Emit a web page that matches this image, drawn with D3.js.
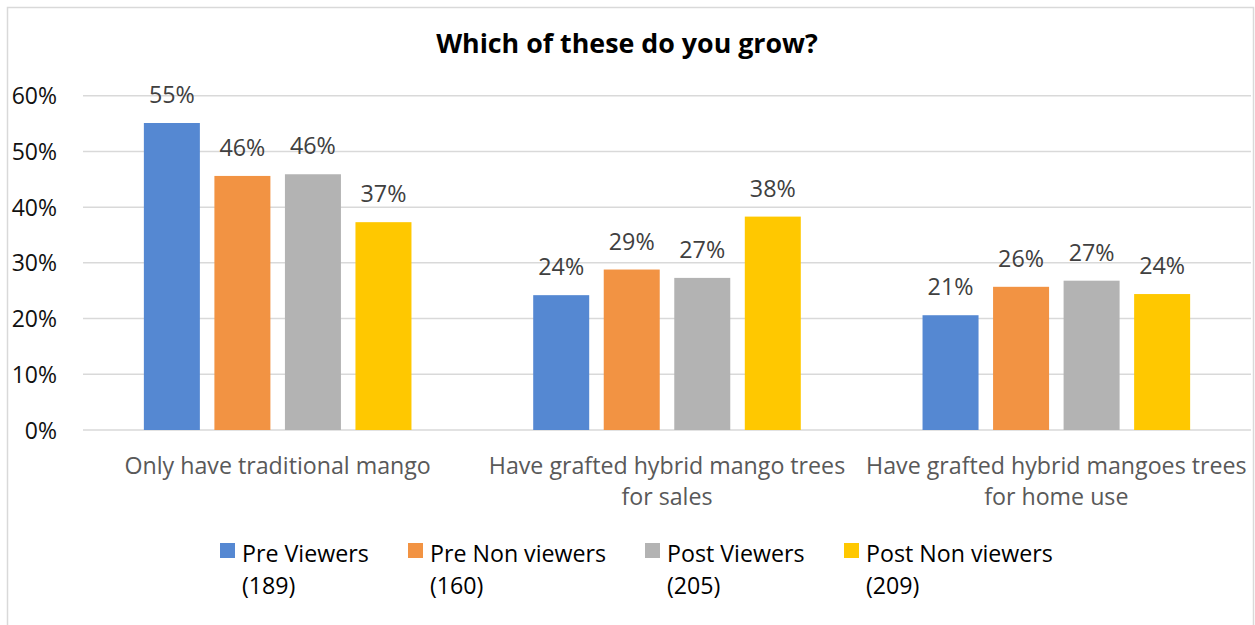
<!DOCTYPE html>
<html>
<head>
<meta charset="utf-8">
<script src="https://cdn.jsdelivr.net/npm/d3@7"></script>
<style>
  html, body { margin: 0; padding: 0; background: #fff; }
  svg { display: block; }
  text { font-family: "Open Sans", Lato, sans-serif; }
</style>
</head>
<body>
<svg id="chart" width="1255" height="625"></svg>
<script>
// ---- data ----
const categories = [
  ["Only have traditional mango"],
  ["Have grafted hybrid mango trees", "for sales"],
  ["Have grafted hybrid mangoes trees", "for home use"]
];
const seriesNames = ["Pre Viewers", "Pre Non viewers", "Post Viewers", "Post Non viewers"];
const seriesCounts = ["(189)", "(160)", "(205)", "(209)"];
const preViewers     = [0.551, 0.242, 0.206];
const preNonViewers  = [0.456, 0.288, 0.257];
const postViewers    = [0.459, 0.273, 0.268];
const postNonViewers = [0.373, 0.383, 0.244];
const yTicks = [0, 0.1, 0.2, 0.3, 0.4, 0.5, 0.6];
const colors = ["#5588d2", "#f29343", "#b3b3b3", "#ffc800"];
const title = "Which of these do you grow?";

const seriesValues = [preViewers, preNonViewers, postViewers, postNonViewers];

const svg = d3.select("#chart");

// frame
svg.append("rect").attr("x", 7.5).attr("y", 7.5).attr("width", 1246).attr("height", 640)
  .attr("fill", "#fff").attr("stroke", "#d9d9d9").attr("stroke-width", 1.5);

// title
svg.append("text").attr("x", 627).attr("y", 53).attr("text-anchor", "middle")
  .attr("font-size", 26.8).attr("font-weight", "bold").attr("fill", "#000").text(title);

const left = 83, right = 1251, y0 = 430, yTop = 95.7;
const catKeys = categories.map((c, i) => i);
const x0 = d3.scaleBand().domain(catKeys).range([left, right]).paddingInner(0).paddingOuter(0);
const x1 = d3.scaleBand().domain(d3.range(seriesNames.length)).range([0, x0.bandwidth()])
  .paddingInner(0.206).paddingOuter(0.863);
const y = d3.scaleLinear().domain([0, 0.6]).range([y0, yTop]);

// gridlines
svg.append("g").selectAll("line").data(yTicks).join("line")
  .attr("x1", left).attr("x2", right)
  .attr("y1", d => y(d)).attr("y2", d => y(d))
  .attr("stroke", "#d9d9d9").attr("stroke-width", 1.5);

// y axis labels
const yAxis = d3.axisLeft(y).tickValues(yTicks).tickFormat(d3.format(".0%")).tickSize(0).tickPadding(0);
const ya = svg.append("g").attr("transform", "translate(57,0)").call(yAxis);
ya.select(".domain").remove();
ya.selectAll("text").attr("font-size", 23).attr("fill", "#111").attr("font-family", "'Open Sans', sans-serif")
  .attr("dy", "0.35em");

// bars
const groups = svg.append("g").selectAll("g").data(catKeys).join("g")
  .attr("transform", d => `translate(${x0(d)},0)`);
groups.selectAll("rect")
  .data(ci => seriesValues.map((vals, si) => ({ si, v: vals[ci] })))
  .join("rect")
  .attr("x", d => x1(d.si)).attr("width", x1.bandwidth())
  .attr("y", d => y(d.v)).attr("height", d => y0 - y(d.v))
  .attr("fill", d => colors[d.si]);

// data labels
groups.selectAll("text.lbl")
  .data(ci => seriesValues.map((vals, si) => ({ si, v: vals[ci] })))
  .join("text").attr("class", "lbl")
  .attr("x", d => x1(d.si) + x1.bandwidth() / 2)
  .attr("y", d => y(d.v) - 20)
  .attr("text-anchor", "middle").attr("font-size", 23.3).attr("fill", "#404040")
  .text(d => d3.format(".0%")(d.v));

// x axis category labels
const xa = svg.append("g").selectAll("text").data(catKeys).join("text")
  .attr("x", d => x0(d) + x0.bandwidth() / 2)
  .attr("y", 474)
  .attr("text-anchor", "middle").attr("font-size", 23.2).attr("fill", "#595959");
xa.selectAll("tspan").data(d => categories[d]).join("tspan")
  .attr("x", function () { return d3.select(this.parentNode).attr("x"); })
  .attr("dy", (d, i) => i === 0 ? 0 : 31)
  .text(d => d);

// legend
const legendX = [220, 408, 645, 844];
const lg = svg.append("g").selectAll("g").data(d3.range(seriesNames.length)).join("g")
  .attr("transform", i => `translate(${legendX[i]},543)`);
lg.append("rect").attr("width", 15).attr("height", 15).attr("fill", i => colors[i]);
const lt = lg.append("text").attr("x", 22).attr("y", 19).attr("font-size", 23.2).attr("fill", "#000");
lt.append("tspan").attr("x", 22).text(i => seriesNames[i]);
lt.append("tspan").attr("x", 22).attr("dy", 32).text(i => seriesCounts[i]);
</script>
</body>
</html>
